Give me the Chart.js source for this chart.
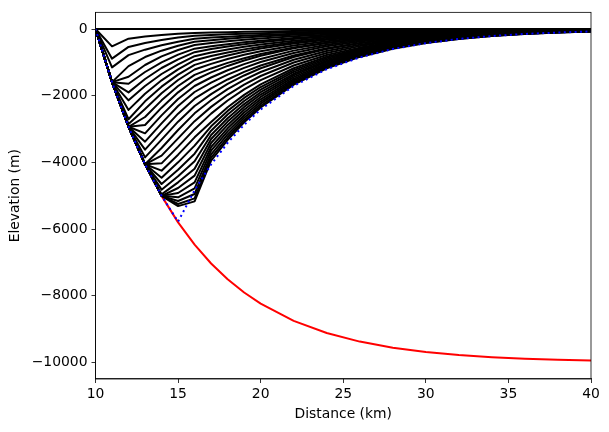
<!DOCTYPE html>
<html>
<head>
<meta charset="utf-8">
<script src="https://cdn.jsdelivr.net/npm/chart.js@4"></script>
<style>
  body { margin: 0; background: #fff; }
  canvas { display: block; }
</style>
</head>
<body>
<canvas id="chart" width="609" height="432"></canvas>
<script>
const distanceKm = [10, 11, 12, 13, 14, 15, 16, 17, 18, 19, 20, 22, 24, 26, 28, 30, 32, 34, 36, 38, 40];
const xTicks = [10, 15, 20, 25, 30, 35, 40];
const yTicks = [0, -2000, -4000, -6000, -8000, -10000];

// red curve
const basement = [0, -1594, -2933, -4059, -5006, -5802, -6471, -7034, -7506, -7904, -8238, -8755, -9120, -9378, -9561, -9690, -9781, -9845, -9891, -9923, -9945];
// blue dotted curve
const envelope = [0, -1594, -2933, -4059, -5006, -5780, -4835, -4063, -3417, -2872, -2414, -1706, -1206, -852, -601, -425, -300, -212, -149, -105, -75];

// black profiles
const profiles = [
  [0, 0, 0, 0, 0, 0, 0, 0, 0, 0, 0, 0, 0, 0, 0, 0, 0, 0, 0, 0, 0],
  [0, -520, -290, -225, -180, -145, -120, -107, -95, -85, -75, -60, -47, -37, -30, -23, -19, -15, -12, -9, -7],
  [0, -890, -537, -420, -330, -255, -200, -178, -158, -141, -125, -99, -79, -62, -49, -39, -31, -25, -19, -15, -12],
  [0, -1150, -785, -620, -490, -380, -290, -258, -230, -204, -182, -144, -114, -90, -72, -57, -45, -36, -28, -22, -18],
  [0, -1594, -1113, -840, -650, -500, -380, -334, -293, -257, -226, -174, -134, -103, -80, -61, -47, -37, -28, -22, -18],
  [0, -1594, -1433, -1080, -820, -630, -480, -421, -370, -325, -285, -220, -169, -131, -101, -78, -60, -46, -36, -27, -21],
  [0, -1594, -1642, -1290, -1000, -770, -590, -518, -455, -399, -351, -270, -208, -161, -124, -95, -74, -57, -44, -34, -26],
  [0, -1594, -1901, -1500, -1170, -910, -695, -603, -524, -455, -395, -297, -224, -169, -127, -96, -74, -57, -44, -34, -26],
  [0, -1594, -2140, -1710, -1350, -1060, -815, -707, -614, -533, -463, -349, -263, -198, -149, -112, -85, -64, -48, -36, -27],
  [0, -1594, -2427, -1940, -1540, -1210, -935, -812, -704, -611, -531, -400, -301, -227, -171, -129, -97, -73, -56, -42, -31],
  [0, -1594, -2707, -2170, -1730, -1370, -1075, -925, -795, -684, -588, -435, -322, -238, -176, -130, -97, -73, -56, -42, -31],
  [0, -1594, -2850, -2400, -1930, -1530, -1215, -1045, -899, -773, -665, -492, -364, -269, -199, -147, -109, -80, -60, -44, -33],
  [0, -1594, -2933, -2640, -2140, -1710, -1375, -1183, -1017, -875, -752, -556, -411, -304, -225, -167, -123, -91, -67, -50, -37],
  [0, -1594, -2933, -2880, -2360, -1900, -1530, -1302, -1108, -943, -802, -581, -421, -305, -225, -167, -123, -91, -67, -50, -37],
  [0, -1594, -2933, -3130, -2590, -2100, -1710, -1455, -1238, -1054, -897, -649, -470, -341, -247, -179, -129, -94, -68, -50, -37],
  [0, -1594, -2933, -3380, -2830, -2310, -1890, -1608, -1369, -1165, -991, -718, -520, -376, -273, -198, -143, -104, -75, -54, -39],
  [0, -1594, -2933, -3620, -3070, -2540, -2090, -1779, -1514, -1288, -1096, -794, -575, -416, -302, -218, -158, -115, -83, -60, -43],
  [0, -1594, -2933, -3850, -3320, -2780, -2310, -1952, -1649, -1394, -1178, -841, -600, -429, -306, -219, -158, -115, -83, -60, -43],
  [0, -1594, -2933, -4059, -3570, -3030, -2530, -2138, -1806, -1527, -1290, -921, -658, -470, -335, -239, -171, -122, -87, -62, -45],
  [0, -1594, -2933, -4059, -3800, -3280, -2765, -2336, -1974, -1668, -1410, -1006, -719, -513, -366, -261, -187, -133, -95, -68, -49],
  [0, -1594, -2933, -4059, -4030, -3530, -3005, -2539, -2146, -1813, -1532, -1094, -781, -558, -398, -284, -203, -145, -103, -74, -53],
  [0, -1594, -2933, -4059, -4250, -3770, -3250, -2790, -2348, -1976, -1663, -1178, -834, -591, -419, -297, -210, -149, -105, -74, -53],
  [0, -1594, -2933, -4059, -4460, -4000, -3500, -2920, -2457, -2068, -1741, -1233, -873, -618, -438, -310, -220, -156, -110, -78, -55],
  [0, -1594, -2933, -4059, -4650, -4220, -3740, -3050, -2567, -2160, -1818, -1288, -912, -646, -458, -324, -230, -163, -115, -81, -58],
  [0, -1594, -2933, -4059, -4820, -4420, -3970, -3180, -2676, -2252, -1896, -1343, -951, -674, -477, -338, -239, -169, -120, -85, -60],
  [0, -1594, -2933, -4059, -4960, -4600, -4190, -3300, -2777, -2337, -1967, -1393, -987, -699, -495, -351, -248, -176, -125, -88, -62],
  [0, -1594, -2933, -4059, -5006, -4770, -4400, -3420, -2878, -2422, -2039, -1444, -1023, -724, -513, -364, -258, -182, -129, -91, -65],
  [0, -1594, -2933, -4059, -5006, -4920, -4600, -3540, -2979, -2507, -2110, -1495, -1058, -750, -531, -376, -267, -189, -134, -95, -67],
  [0, -1594, -2933, -4059, -5006, -5050, -4780, -3650, -3072, -2585, -2176, -1541, -1091, -773, -548, -388, -275, -195, -138, -97, -69],
  [0, -1594, -2933, -4059, -5006, -5160, -4950, -3760, -3164, -2663, -2241, -1587, -1124, -796, -564, -400, -283, -200, -142, -100, -71],
  [0, -1594, -2933, -4059, -5006, -5250, -5080, -3860, -3249, -2734, -2301, -1630, -1154, -818, -579, -410, -291, -206, -146, -103, -73],
  [0, -1594, -2933, -4059, -5006, -5313, -5170, -3950, -3324, -2798, -2355, -1668, -1181, -837, -593, -420, -297, -211, -149, -105, -75]
];

const FONT = { family: "'DejaVu Sans', sans-serif", size: 13.9 };

function toPoints(values) {
  return distanceKm.map((x, i) => ({ x: x, y: values[i] }));
}

function fmt(v) {
  return String(v).replace("-", "\u2212");
}

const datasets = [];
datasets.push({
  data: toPoints(envelope),
  borderColor: "#0000ff",
  borderWidth: 2,
  borderDash: [2, 3.4],
  order: 0,
});
profiles.forEach((p) => {
  datasets.push({
    data: toPoints(p),
    borderColor: "#000000",
    borderWidth: 2,
    order: 1,
  });
});
datasets.push({
  data: toPoints(basement),
  borderColor: "#ff0000",
  borderWidth: 2,
  order: 2,
});

const frame = {
  id: "frame",
  afterDraw(chart) {
    const { ctx, chartArea: a } = chart;
    ctx.save();
    ctx.strokeStyle = "#000";
    ctx.lineWidth = 0.8;
    ctx.strokeRect(a.left, a.top, a.right - a.left, a.bottom - a.top);
    ctx.restore();
  },
};

new Chart(document.getElementById("chart").getContext("2d"), {
  type: "scatter",
  data: { datasets: datasets },
  options: {
    responsive: false,
    animation: false,
    devicePixelRatio: 1,
    layout: { padding: { top: 9, right: 18, left: 0, bottom: 0 } },
    elements: {
      point: { radius: 0, hoverRadius: 0 },
      line: { tension: 0, fill: false, borderJoinStyle: "round" },
    },
    datasets: { scatter: { showLine: true } },
    plugins: { legend: { display: false }, tooltip: { enabled: false } },
    scales: {
      x: {
        type: "linear",
        min: 10,
        max: 40,
        afterFit: (s) => { s.height = 53; },
        afterBuildTicks: (s) => { s.ticks = xTicks.map((v) => ({ value: v })); },
        ticks: { color: "#000", font: FONT, padding: 3, maxRotation: 0, callback: fmt },
        grid: { drawOnChartArea: false, tickLength: 4, tickColor: "#000", tickWidth: 0.8 },
        border: { display: true, color: "#000", width: 0.8 },
        title: { display: true, text: "Distance (km)", color: "#000", font: FONT, padding: { top: 0, bottom: 9 } },
      },
      y: {
        type: "linear",
        min: -10500,
        max: 500,
        afterFit: (s) => { s.width = 95.5; },
        afterBuildTicks: (s) => { s.ticks = yTicks.map((v) => ({ value: v })); },
        ticks: { color: "#000", font: FONT, padding: 4, callback: fmt },
        grid: { drawOnChartArea: false, tickLength: 4, tickColor: "#000", tickWidth: 0.8 },
        border: { display: true, color: "#000", width: 0.8 },
        title: { display: true, text: "Elevation (m)", color: "#000", font: FONT, padding: { top: 7, bottom: 0 } },
      },
    },
  },
  plugins: [frame],
});
</script>
</body>
</html>
